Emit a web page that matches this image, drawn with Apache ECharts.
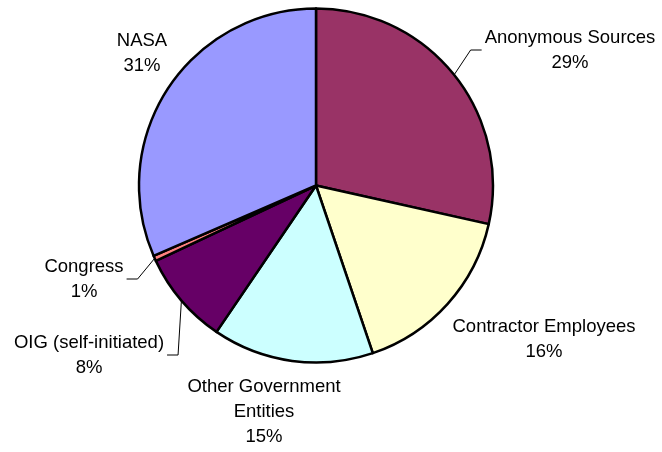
<!DOCTYPE html>
<html>
<head>
<meta charset="utf-8">
<script src="https://cdn.jsdelivr.net/npm/echarts@6/dist/echarts.min.js"></script>
<style>
  html, body { margin: 0; padding: 0; background: #fff; }
  #chart { width: 662px; height: 452px; }
</style>
</head>
<body>
<div id="chart"></div>
<script>
// Data (clockwise from 12 o'clock)
const categories = ['Anonymous Sources', 'Contractor Employees', 'Other Government\nEntities', 'OIG (self-initiated)', 'Congress', 'NASA'];
const shares = [28.5, 16.3, 14.7, 8.5, 0.5, 31.5];
const percentLabels = ['29%', '16%', '15%', '8%', '1%', '31%'];

// Styling / layout (not data)
const colors = ['#993366', '#FFFFCC', '#CCFFFF', '#660066', '#FF8080', '#9999FF'];
const labelCenters = [[570, 50], [544, 339], [264, 412], [89, 355], [84, 279], [142, 53]];
const leaderSide = [-1, 0, 0, 1, 1, 0]; // -1: line enters label from left, 1: from right, 0: no line

const chart = echarts.init(document.getElementById('chart'), null, { renderer: 'canvas' });

const data = categories.map((name, i) => ({
  name: name,
  value: shares[i],
  itemStyle: { color: colors[i] },
  labelLine: { show: leaderSide[i] !== 0 }
}));

chart.setOption({
  animation: false,
  backgroundColor: '#ffffff',
  series: [{
    type: 'pie',
    center: [316, 185.5],
    radius: 177,
    startAngle: 90,
    clockwise: true,
    avoidLabelOverlap: false,
    itemStyle: { borderColor: '#000000', borderWidth: 2.5 },
    emphasis: { disabled: true },
    label: {
      show: true,
      position: 'outside',
      formatter: p => p.name + '\n' + percentLabels[p.dataIndex],
      fontFamily: '"Liberation Sans", Arial, sans-serif',
      fontSize: 18.5,
      lineHeight: 25,
      color: '#000000',
      align: 'center'
    },
    labelLine: {
      show: true,
      length: 15,
      length2: 10,
      lineStyle: { color: '#000000', width: 1 }
    },
    labelLayout: function (params) {
      const i = params.dataIndex;
      const c = labelCenters[i];
      const w = params.labelRect.width;
      const res = { x: c[0], y: c[1], align: 'center', verticalAlign: 'middle' };
      const side = leaderSide[i];
      if (side !== 0 && params.labelLinePoints) {
        const start = params.labelLinePoints[0];
        const endX = c[0] + side * (w / 2 + 3);
        const elbowX = endX + side * 11;
        res.labelLinePoints = [start, [elbowX, c[1]], [endX, c[1]]];
      }
      return res;
    },
    data: data
  }]
});
</script>
</body>
</html>
